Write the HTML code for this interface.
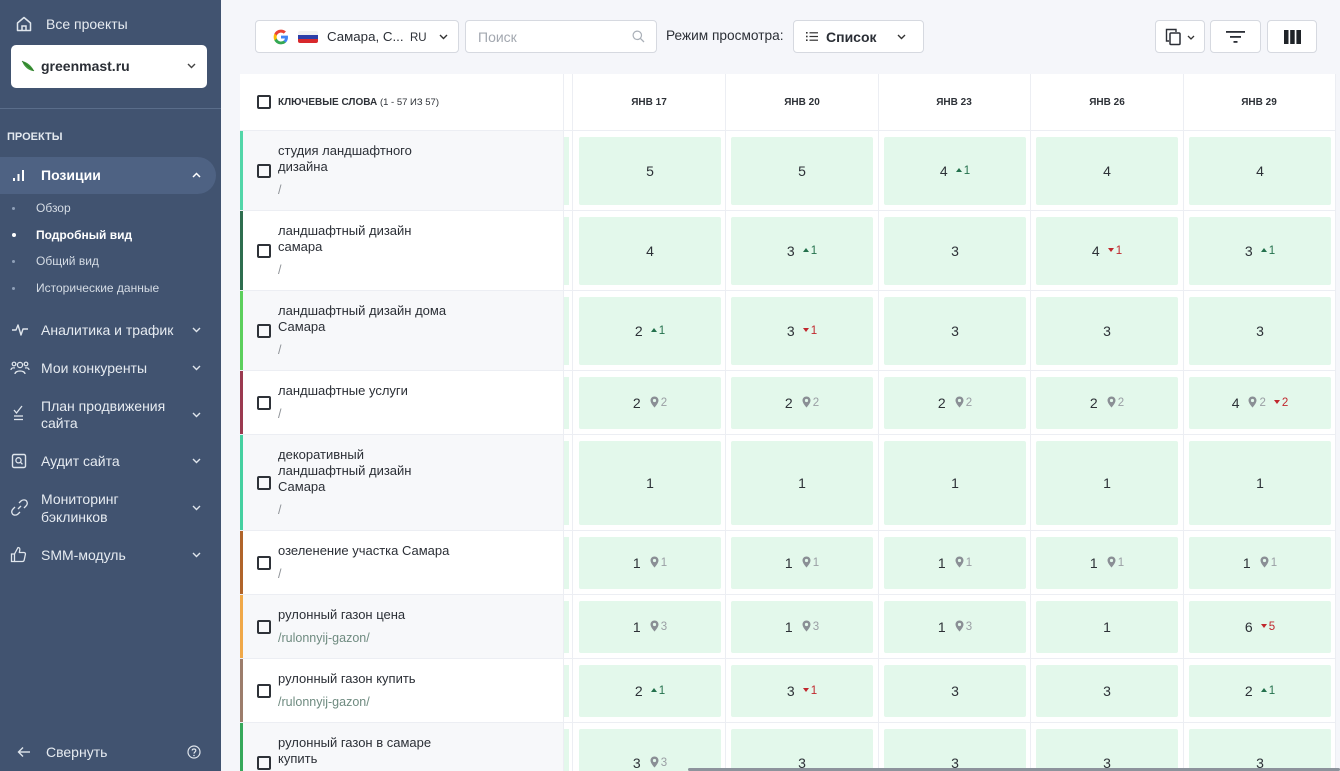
<!DOCTYPE html>
<html><head><meta charset="utf-8">
<style>
*{box-sizing:border-box;margin:0;padding:0}
html{width:1340px;height:771px;overflow:hidden}
body{width:1340px;height:771px;overflow:hidden;background:#f5f6fa;font-family:"Liberation Sans","Noto Sans CJK SC",sans-serif;position:relative;color:#2b2f36}
.a{position:absolute}
.sb{position:absolute;left:0;top:0;width:221px;height:771px;background:#415370;color:#e4e9ef}
.sb .t{position:absolute;font-size:14px;line-height:16px;color:#e6ebf1;white-space:nowrap}
.sb .s{position:absolute;left:36px;font-size:12px;line-height:14px;color:#d5dce5;white-space:nowrap}
.sb .dot{position:absolute;left:12px;width:3px;height:3px;border-radius:50%;background:#8fa0b8}
.chev{position:absolute;left:192px}
.btn{position:absolute;top:20px;height:33px;background:#fff;border:1px solid #d6d9e0;border-radius:4px}
.r{position:absolute;left:240px;width:1096px;border-bottom:1px solid #eceef3;background:#fff;overflow:hidden}
.kw{position:absolute;left:0;top:0;bottom:0;width:323px;display:flex;flex-direction:column;justify-content:center;padding-left:35px;font-size:13px;line-height:16px;color:#2b2f36}
.kw.g{background:#f7f8fa}
.kw .p{margin-top:7px;color:#8d9196;font-size:12.5px}
.kw .p.l{color:#6f8b80}
.cb{position:absolute;left:14px;top:50%;margin-top:-7px;width:14px;height:14px;border:2px solid #2e3238;border-radius:2px;background:transparent}
.pt{position:absolute;left:324px;top:6px;bottom:5px;width:5px;background:#e3f8eb}
.c{position:absolute;top:6px;bottom:5px;width:142px;background:#e3f8eb;border-radius:2px;display:flex;align-items:center;justify-content:center;font-size:14px;color:#2d3137;white-space:nowrap}
.c1{left:339px}.c2{left:491px}.c3{left:644px}.c4{left:796px}.c5{left:949px}
.u{display:inline-block;width:0;height:0;border-left:3.5px solid transparent;border-right:3.5px solid transparent;border-bottom:4.5px solid #23704c;margin-left:8px;margin-right:2px;position:relative;top:-1px}
.d{display:inline-block;width:0;height:0;border-left:3.5px solid transparent;border-right:3.5px solid transparent;border-top:4.5px solid #c0272d;margin-left:8px;margin-right:2px;position:relative;top:-1px}
.gn{font-size:11.5px;color:#23704c}
.rn{font-size:11.5px;color:#c0272d}
.pin{display:inline-block;width:9px;height:12px;margin-left:9px;margin-right:2px;position:relative;top:-1px}
.pn{font-size:11.5px;color:#9a9ea4}
.vl{position:absolute;top:74px;height:697px;width:1px;background:#eceef3}
.hd{position:absolute;top:74px;height:57px;left:240px;width:1096px;background:#fff;border-bottom:1px solid #eceef3}
.hc{position:absolute;top:0;height:56px;display:flex;align-items:center;justify-content:center;font-size:10px;font-weight:bold;color:#2e3238;width:152px}
</style></head><body>

<svg width="0" height="0" style="position:absolute"><defs><path id="pp" d="M4.5 0.5 C6.8 0.5 8.5 2.2 8.5 4.5 C8.5 7.3 4.5 11.5 4.5 11.5 C4.5 11.5 0.5 7.3 0.5 4.5 C0.5 2.2 2.2 0.5 4.5 0.5 Z M4.5 2.9 A1.6 1.6 0 1 0 4.5 6.1 A1.6 1.6 0 1 0 4.5 2.9 Z" fill="#8a8f95" fill-rule="evenodd"/></defs></svg>

<!-- SIDEBAR -->
<div class="sb">
  <svg class="a" style="left:15px;top:15px" width="18" height="18" viewBox="0 0 18 18"><path d="M2.5 8 L9 2.5 L15.5 8 V15.5 H2.5 Z" fill="none" stroke="#dfe5ec" stroke-width="1.5" stroke-linejoin="round"/><path d="M7 15.5 V11 H11 V15.5" fill="none" stroke="#dfe5ec" stroke-width="1.5"/></svg>
  <div class="t" style="left:46px;top:16px">Все проекты</div>

  <div class="a" style="left:11px;top:45px;width:196px;height:43px;background:#fff;border-radius:5px">
    <svg class="a" style="left:10px;top:14px" width="14" height="14" viewBox="0 0 14 14"><path d="M1 2 C6 3 11 7 13 12 C8 12 3 8 1 2 Z" fill="#3f9a3a"/><path d="M1 2 L13 12" stroke="#2a6e27" stroke-width="0.8"/></svg>
    <div class="a" style="left:30px;top:13px;font-size:14px;font-weight:bold;color:#2a2e35;line-height:16px">greenmast.ru</div>
    <svg class="a" style="left:176px;top:18px" width="9" height="6" viewBox="0 0 9 6"><polyline points="1,1 4.5,4.5 8,1" fill="none" stroke="#444" stroke-width="1.4"/></svg>
  </div>
  <div class="a" style="left:0;top:108px;width:221px;height:1px;background:#5a6d8a"></div>
  <div class="a" style="left:7px;top:131px;font-size:11px;font-weight:bold;color:#e4e9ef">ПРОЕКТЫ</div>

  <div class="a" style="left:0;top:157px;width:216px;height:37px;background:#4e6283;border-radius:0 19px 19px 0"></div>
  <svg class="a" style="left:12px;top:168px" width="14" height="14" viewBox="0 0 14 14"><rect x="1" y="10" width="2" height="3" fill="#fff"/><rect x="5.5" y="6" width="2" height="7" fill="#fff"/><rect x="10" y="2" width="2" height="11" fill="#fff"/></svg>
  <div class="t" style="left:41px;top:167px;font-weight:bold;color:#fff">Позиции</div>
  <svg class="chev" style="top:172px" width="9" height="6" viewBox="0 0 9 6"><polyline points="1,5 4.5,1.5 8,5" fill="none" stroke="#fff" stroke-width="1.5"/></svg>

  <div class="dot" style="top:207px"></div><div class="s" style="top:201px">Обзор</div>
  <div class="dot" style="top:233px;width:4px;height:4px;background:#fff"></div><div class="s" style="top:228px;color:#fff;font-weight:bold">Подробный вид</div>
  <div class="dot" style="top:260px"></div><div class="s" style="top:254px">Общий вид</div>
  <div class="dot" style="top:287px"></div><div class="s" style="top:281px">Исторические данные</div>

  <svg class="a" style="left:11px;top:322px" width="18" height="16" viewBox="0 0 18 16"><polyline points="1,8 5,8 7,3 10,13 12,7 17,7" fill="none" stroke="#dfe5ec" stroke-width="1.4" stroke-linejoin="round"/></svg>
  <div class="t" style="left:41px;top:322px">Аналитика и трафик</div>
  <svg class="chev" style="top:327px" width="9" height="6" viewBox="0 0 9 6"><polyline points="1,1 4.5,4.5 8,1" fill="none" stroke="#dfe5ec" stroke-width="1.4"/></svg>

  <svg class="a" style="left:10px;top:360px" width="20" height="16" viewBox="0 0 20 16"><circle cx="10" cy="5" r="2.6" fill="none" stroke="#dfe5ec" stroke-width="1.3"/><path d="M5 14 C5 10 15 10 15 14" fill="none" stroke="#dfe5ec" stroke-width="1.3"/><circle cx="4" cy="4" r="1.8" fill="none" stroke="#dfe5ec" stroke-width="1.2"/><circle cx="16" cy="4" r="1.8" fill="none" stroke="#dfe5ec" stroke-width="1.2"/><path d="M1 10 C1 8 3 7.5 5 8" fill="none" stroke="#dfe5ec" stroke-width="1.2"/><path d="M19 10 C19 8 17 7.5 15 8" fill="none" stroke="#dfe5ec" stroke-width="1.2"/></svg>
  <div class="t" style="left:41px;top:360px">Мои конкуренты</div>
  <svg class="chev" style="top:365px" width="9" height="6" viewBox="0 0 9 6"><polyline points="1,1 4.5,4.5 8,1" fill="none" stroke="#dfe5ec" stroke-width="1.4"/></svg>

  <svg class="a" style="left:13px;top:405px" width="12" height="16" viewBox="0 0 12 16"><polyline points="1,5 3.5,8 9,1" fill="none" stroke="#dfe5ec" stroke-width="1.3"/><line x1="1" y1="11" x2="10" y2="11" stroke="#dfe5ec" stroke-width="1.3"/><line x1="1" y1="14.5" x2="10" y2="14.5" stroke="#dfe5ec" stroke-width="1.3"/></svg>
  <div class="t" style="left:41px;top:398px">План продвижения</div>
  <div class="t" style="left:41px;top:415px">сайта</div>
  <svg class="chev" style="top:412px" width="9" height="6" viewBox="0 0 9 6"><polyline points="1,1 4.5,4.5 8,1" fill="none" stroke="#dfe5ec" stroke-width="1.4"/></svg>

  <svg class="a" style="left:11px;top:453px" width="16" height="16" viewBox="0 0 16 16"><rect x="1.5" y="1.5" width="13" height="13" rx="1.5" fill="none" stroke="#dfe5ec" stroke-width="1.4"/><circle cx="7.5" cy="7.3" r="2.6" fill="none" stroke="#dfe5ec" stroke-width="1.3"/><line x1="9.5" y1="9.3" x2="11.5" y2="11.3" stroke="#dfe5ec" stroke-width="1.3"/></svg>
  <div class="t" style="left:41px;top:453px">Аудит сайта</div>
  <svg class="chev" style="top:458px" width="9" height="6" viewBox="0 0 9 6"><polyline points="1,1 4.5,4.5 8,1" fill="none" stroke="#dfe5ec" stroke-width="1.4"/></svg>

  <svg class="a" style="left:11px;top:499px" width="17" height="17" viewBox="0 0 17 17"><path d="M7 10 L10 7" stroke="#dfe5ec" stroke-width="1.3"/><path d="M8 4 L10 2 C11.5 0.5 14.5 0.5 15.5 2 C16.5 3.5 16.5 5.5 15 7 L13 9" fill="none" stroke="#dfe5ec" stroke-width="1.3"/><path d="M9 13 L7 15 C5.5 16.5 2.5 16.5 1.5 15 C0.5 13.5 0.5 11.5 2 10 L4 8" fill="none" stroke="#dfe5ec" stroke-width="1.3"/></svg>
  <div class="t" style="left:41px;top:491px">Мониторинг</div>
  <div class="t" style="left:41px;top:509px">бэклинков</div>
  <svg class="chev" style="top:505px" width="9" height="6" viewBox="0 0 9 6"><polyline points="1,1 4.5,4.5 8,1" fill="none" stroke="#dfe5ec" stroke-width="1.4"/></svg>

  <svg class="a" style="left:10px;top:546px" width="17" height="17" viewBox="0 0 17 17"><path d="M1.5 8 H4.5 V15.5 H1.5 Z" fill="none" stroke="#dfe5ec" stroke-width="1.3"/><path d="M4.5 8 L8 1.5 C9.5 1.5 10 2.5 9.8 4 L9.3 6.5 H14 C15 6.5 15.6 7.4 15.4 8.3 L14.2 14 C14 15 13.3 15.5 12.4 15.5 H4.5" fill="none" stroke="#dfe5ec" stroke-width="1.3" stroke-linejoin="round"/></svg>
  <div class="t" style="left:41px;top:547px">SMM-модуль</div>
  <svg class="chev" style="top:552px" width="9" height="6" viewBox="0 0 9 6"><polyline points="1,1 4.5,4.5 8,1" fill="none" stroke="#dfe5ec" stroke-width="1.4"/></svg>

  <svg class="a" style="left:17px;top:745px" width="14" height="14" viewBox="0 0 14 14"><line x1="2" y1="7" x2="13" y2="7" stroke="#dfe5ec" stroke-width="1.4"/><polyline points="6,2.5 1.5,7 6,11.5" fill="none" stroke="#dfe5ec" stroke-width="1.4"/></svg>
  <div class="t" style="left:46px;top:744px">Свернуть</div>
  <svg class="a" style="left:187px;top:745px" width="14" height="14" viewBox="0 0 14 14"><circle cx="7" cy="7" r="6" fill="none" stroke="#dfe5ec" stroke-width="1.2"/><path d="M5.2 5.5 C5.2 3.5 8.8 3.5 8.8 5.5 C8.8 7 7 7 7 8.6" fill="none" stroke="#dfe5ec" stroke-width="1.2"/><circle cx="7" cy="10.5" r="0.8" fill="#dfe5ec"/></svg>
</div>

<!-- TOOLBAR -->
<div class="btn" style="left:255px;width:204px">
  <svg class="a" style="left:17px;top:8px" width="16" height="16" viewBox="0 0 24 24"><path d="M22.5 12.2c0-.8-.1-1.5-.2-2.2H12v4.2h5.9c-.3 1.4-1 2.5-2.2 3.3v2.7h3.6c2.1-1.9 3.2-4.7 3.2-8z" fill="#4285f4"/><path d="M12 23c3 0 5.5-1 7.3-2.7l-3.6-2.7c-1 .7-2.2 1.1-3.7 1.1-2.9 0-5.3-1.9-6.2-4.5H2.1v2.8C3.9 20.6 7.7 23 12 23z" fill="#34a853"/><path d="M5.8 14.2c-.2-.7-.4-1.4-.4-2.2s.1-1.5.4-2.2V7H2.1C1.4 8.5 1 10.2 1 12s.4 3.5 1.1 5l3.7-2.8z" fill="#fbbc05"/><path d="M12 5.4c1.6 0 3.1.6 4.2 1.6l3.2-3.2C17.5 2 15 1 12 1 7.7 1 3.9 3.4 2.1 7l3.7 2.8c.9-2.6 3.3-4.4 6.2-4.4z" fill="#ea4335"/></svg>
  <div class="a" style="left:42px;top:10px;width:20px;height:12px;border-radius:2px;overflow:hidden">
    <div style="height:4px;background:#f1f1f1"></div><div style="height:4px;background:#2d3fa8"></div><div style="height:4px;background:#d8282c"></div>
  </div>
  <div class="a" style="left:71px;top:8px;font-size:13.3px;line-height:16px;color:#2b2f36">Самара, С...</div>
  <div class="a" style="left:154px;top:10px;font-size:11.5px;line-height:14px;color:#2b2f36">RU</div>
  <svg class="a" style="left:183px;top:13px" width="9" height="6" viewBox="0 0 9 6"><polyline points="1,1 4.5,4.5 8,1" fill="none" stroke="#333" stroke-width="1.4"/></svg>
</div>
<div class="btn" style="left:465px;width:192px">
  <div class="a" style="left:12px;top:8px;font-size:14px;line-height:16px;color:#a3a8b0">Поиск</div>
  <svg class="a" style="left:166px;top:9px" width="13" height="13" viewBox="0 0 13 13"><circle cx="5.3" cy="5.3" r="4.2" fill="none" stroke="#aab0b8" stroke-width="1.2"/><line x1="8.4" y1="8.4" x2="12" y2="12" stroke="#aab0b8" stroke-width="1.3"/></svg>
</div>
<div class="a" style="left:666px;top:28px;font-size:13.7px;line-height:16px;color:#2b2f36">Режим просмотра:</div>
<div class="btn" style="left:793px;width:131px">
  <svg class="a" style="left:12px;top:10px" width="12" height="11" viewBox="0 0 12 11"><rect x="0" y="1" width="1.6" height="1.6" fill="#333"/><rect x="0" y="4.7" width="1.6" height="1.6" fill="#333"/><rect x="0" y="8.4" width="1.6" height="1.6" fill="#333"/><rect x="3.5" y="1.2" width="8.5" height="1.2" fill="#333"/><rect x="3.5" y="4.9" width="8.5" height="1.2" fill="#333"/><rect x="3.5" y="8.6" width="8.5" height="1.2" fill="#333"/></svg>
  <div class="a" style="left:32px;top:8px;font-size:14px;line-height:16px;color:#2b2f36;font-weight:bold">Список</div>
  <svg class="a" style="left:103px;top:13px" width="9" height="6" viewBox="0 0 9 6"><polyline points="1,1 4.5,4.5 8,1" fill="none" stroke="#333" stroke-width="1.4"/></svg>
</div>
<div class="btn" style="left:1155px;width:50px">
  <svg class="a" style="left:9px;top:7px" width="17" height="18" viewBox="0 0 17 18"><path d="M4 13 H1.5 V1.5 H11 V4" fill="none" stroke="#2b2f36" stroke-width="1.4"/><rect x="5" y="5" width="10" height="11.5" rx="1" fill="none" stroke="#2b2f36" stroke-width="1.5"/></svg>
  <svg class="a" style="left:31px;top:14px" width="8" height="5" viewBox="0 0 8 5"><polyline points="1,1 4,4 7,1" fill="none" stroke="#333" stroke-width="1.3"/></svg>
</div>
<div class="btn" style="left:1210px;width:51px">
  <svg class="a" style="left:15px;top:9px" width="19" height="14" viewBox="0 0 19 14"><rect x="0" y="1" width="19" height="1.8" fill="#2b2f36"/><rect x="4" y="6" width="11" height="1.8" fill="#2b2f36"/><rect x="7.5" y="11" width="4" height="1.8" fill="#2b2f36"/></svg>
</div>
<div class="btn" style="left:1267px;width:50px">
  <svg class="a" style="left:16px;top:9px" width="17" height="14" viewBox="0 0 17 14"><rect x="0" y="0" width="4.5" height="14" fill="#1f2328"/><rect x="6.2" y="0" width="4.5" height="14" fill="#1f2328"/><rect x="12.4" y="0" width="4.6" height="14" fill="#1f2328"/></svg>
</div>

<!-- HEADER -->
<div class="hd">
  <div class="a" style="left:17px;top:21px;width:14px;height:14px;border:2px solid #2e3238;border-radius:2px"></div>
  <div class="a" style="left:38px;top:23px;font-size:10px;line-height:12px;color:#2e3238;white-space:nowrap"><b>КЛЮЧЕВЫЕ СЛОВА</b> <span style="font-size:9.5px">(1 - 57 ИЗ 57)</span></div>
  <div class="hc" style="left:333px">ЯНВ 17</div>
  <div class="hc" style="left:486px">ЯНВ 20</div>
  <div class="hc" style="left:638px">ЯНВ 23</div>
  <div class="hc" style="left:791px">ЯНВ 26</div>
  <div class="hc" style="left:943px">ЯНВ 29</div>
</div>

<!-- ROWS -->
<div class="r" style="top:131px;height:80px">
  <div class="kw g" style="border-left:3px solid #52d6a8"><i class="cb"></i><div>студия ландшафтного<br>дизайна</div><div class="p">/</div></div>
  <div class="pt"></div>
  <div class="c c1">5</div><div class="c c2">5</div><div class="c c3">4<i class="u"></i><span class="gn">1</span></div><div class="c c4">4</div><div class="c c5">4</div>
</div>
<div class="r" style="top:211px;height:80px">
  <div class="kw" style="border-left:3px solid #2f6e4f"><i class="cb"></i><div>ландшафтный дизайн<br>самара</div><div class="p">/</div></div>
  <div class="pt"></div>
  <div class="c c1">4</div><div class="c c2">3<i class="u"></i><span class="gn">1</span></div><div class="c c3">3</div><div class="c c4">4<i class="d"></i><span class="rn">1</span></div><div class="c c5">3<i class="u"></i><span class="gn">1</span></div>
</div>
<div class="r" style="top:291px;height:80px">
  <div class="kw g" style="border-left:3px solid #5ccf5c"><i class="cb"></i><div>ландшафтный дизайн дома<br>Самара</div><div class="p">/</div></div>
  <div class="pt"></div>
  <div class="c c1">2<i class="u"></i><span class="gn">1</span></div><div class="c c2">3<i class="d"></i><span class="rn">1</span></div><div class="c c3">3</div><div class="c c4">3</div><div class="c c5">3</div>
</div>
<div class="r" style="top:371px;height:64px">
  <div class="kw" style="border-left:3px solid #9b3a50"><i class="cb"></i><div>ландшафтные услуги</div><div class="p">/</div></div>
  <div class="pt"></div>
  <div class="c c1">2<svg class="pin" viewBox="0 0 9 12"><use href="#pp"/></svg><span class="pn">2</span></div>
  <div class="c c2">2<svg class="pin" viewBox="0 0 9 12"><use href="#pp"/></svg><span class="pn">2</span></div>
  <div class="c c3">2<svg class="pin" viewBox="0 0 9 12"><use href="#pp"/></svg><span class="pn">2</span></div>
  <div class="c c4">2<svg class="pin" viewBox="0 0 9 12"><use href="#pp"/></svg><span class="pn">2</span></div>
  <div class="c c5">4<svg class="pin" viewBox="0 0 9 12"><use href="#pp"/></svg><span class="pn">2</span><i class="d"></i><span class="rn">2</span></div>
</div>
<div class="r" style="top:435px;height:96px">
  <div class="kw g" style="border-left:3px solid #45d0a0"><i class="cb"></i><div>декоративный<br>ландшафтный дизайн<br>Самара</div><div class="p">/</div></div>
  <div class="pt"></div>
  <div class="c c1">1</div><div class="c c2">1</div><div class="c c3">1</div><div class="c c4">1</div><div class="c c5">1</div>
</div>
<div class="r" style="top:531px;height:64px">
  <div class="kw" style="border-left:3px solid #b0642a"><i class="cb"></i><div>озеленение участка Самара</div><div class="p">/</div></div>
  <div class="pt"></div>
  <div class="c c1">1<svg class="pin" viewBox="0 0 9 12"><use href="#pp"/></svg><span class="pn">1</span></div>
  <div class="c c2">1<svg class="pin" viewBox="0 0 9 12"><use href="#pp"/></svg><span class="pn">1</span></div>
  <div class="c c3">1<svg class="pin" viewBox="0 0 9 12"><use href="#pp"/></svg><span class="pn">1</span></div>
  <div class="c c4">1<svg class="pin" viewBox="0 0 9 12"><use href="#pp"/></svg><span class="pn">1</span></div>
  <div class="c c5">1<svg class="pin" viewBox="0 0 9 12"><use href="#pp"/></svg><span class="pn">1</span></div>
</div>
<div class="r" style="top:595px;height:64px">
  <div class="kw g" style="border-left:3px solid #f0a848"><i class="cb"></i><div>рулонный газон цена</div><div class="p l">/rulonnyij-gazon/</div></div>
  <div class="pt"></div>
  <div class="c c1">1<svg class="pin" viewBox="0 0 9 12"><use href="#pp"/></svg><span class="pn">3</span></div>
  <div class="c c2">1<svg class="pin" viewBox="0 0 9 12"><use href="#pp"/></svg><span class="pn">3</span></div>
  <div class="c c3">1<svg class="pin" viewBox="0 0 9 12"><use href="#pp"/></svg><span class="pn">3</span></div>
  <div class="c c4">1</div>
  <div class="c c5">6<i class="d"></i><span class="rn">5</span></div>
</div>
<div class="r" style="top:659px;height:64px">
  <div class="kw" style="border-left:3px solid #9c7d6c"><i class="cb"></i><div>рулонный газон купить</div><div class="p l">/rulonnyij-gazon/</div></div>
  <div class="pt"></div>
  <div class="c c1">2<i class="u"></i><span class="gn">1</span></div><div class="c c2">3<i class="d"></i><span class="rn">1</span></div><div class="c c3">3</div><div class="c c4">3</div><div class="c c5">2<i class="u"></i><span class="gn">1</span></div>
</div>
<div class="a" style="left:0;top:723px;width:1340px;height:48px;overflow:hidden">
<div class="r" style="top:0;height:80px">
  <div class="kw g" style="border-left:3px solid #36a85a"><i class="cb"></i><div>рулонный газон в самаре<br>купить</div><div class="p">/</div></div>
  <div class="pt"></div>
  <div class="c c1">3<svg class="pin" viewBox="0 0 9 12"><use href="#pp"/></svg><span class="pn">3</span></div>
  <div class="c c2">3</div><div class="c c3">3</div><div class="c c4">3</div><div class="c c5">3</div>
</div>
</div>

<!-- column lines -->
<div class="vl" style="left:563px"></div>
<div class="vl" style="left:572px"></div>
<div class="vl" style="left:725px"></div>
<div class="vl" style="left:878px"></div>
<div class="vl" style="left:1030px"></div>
<div class="vl" style="left:1183px"></div>
<div class="vl" style="left:1335px"></div>

<!-- scrollbar -->
<div class="a" style="left:688px;top:768px;width:652px;height:3px;background:#8d939c;border-radius:2px"></div>
</body></html>
